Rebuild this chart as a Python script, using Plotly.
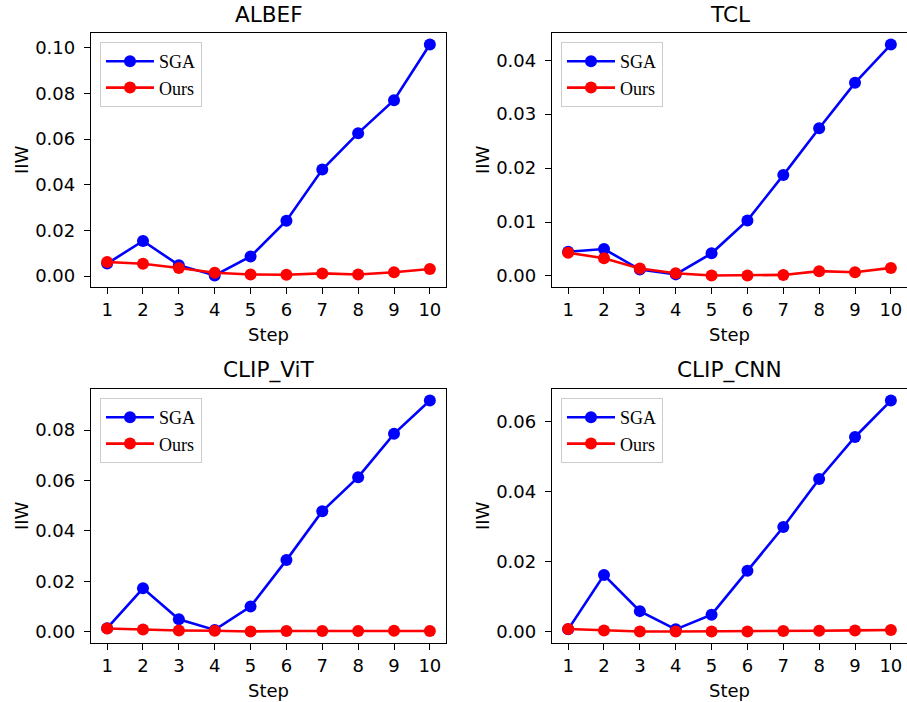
import plotly.graph_objects as go

steps = list(range(1, 11))
titles = ["ALBEF", "TCL", "CLIP_ViT", "CLIP_CNN"]

albef_sga = [0.0055, 0.0154, 0.0048, 0.0003, 0.0086, 0.0243, 0.0467, 0.0626, 0.0770, 0.1014]
albef_ours = [0.0062, 0.0054, 0.0036, 0.0015, 0.0007, 0.0006, 0.0012, 0.0007, 0.0017, 0.0031]

tcl_sga = [0.0045, 0.0050, 0.0012, 0.0003, 0.0042, 0.0103, 0.0187, 0.0274, 0.0358, 0.0429]
tcl_ours = [0.0043, 0.0033, 0.0014, 0.0005, 0.0001, 0.0001, 0.0002, 0.0009, 0.0007, 0.0015]

vit_sga = [0.0014, 0.0172, 0.0049, 0.0007, 0.0100, 0.0284, 0.0478, 0.0613, 0.0785, 0.0917]
vit_ours = [0.0013, 0.0009, 0.0005, 0.0004, 0.0001, 0.0003, 0.0003, 0.0003, 0.0004, 0.0003]

cnn_sga = [0.0007, 0.0162, 0.0059, 0.0007, 0.0049, 0.0174, 0.0299, 0.0436, 0.0556, 0.0660]
cnn_ours = [0.0008, 0.0004, 0.0001, 0.0001, 0.0001, 0.0001, 0.0002, 0.0003, 0.0004, 0.0005]

y_dticks = [0.02, 0.01, 0.02, 0.02]

panels = [
    (albef_sga, albef_ours),
    (tcl_sga, tcl_ours),
    (vit_sga, vit_ours),
    (cnn_sga, cnn_ours),
]

W, H = 907, 702
# pixel boxes in window coordinates (left, right, top, bottom)
boxes = [
    (91, 446, 33, 287),
    (552, 907, 33, 287),
    (91, 446, 389, 643),
    (552, 907, 389, 643),
]

fig = go.Figure()
TICKFONT = dict(family="DejaVu Sans", size=18, color="black")
annotations = []
layout = {}


def px(v):
    return v / W


def py(v):
    return 1 - v / H


for i, ((sga, ours), title, dt, box) in enumerate(zip(panels, titles, y_dticks, boxes)):
    n = "" if i == 0 else str(i + 1)
    leg = "legend" + n
    xa = "x" + n
    ya = "y" + n
    fig.add_trace(go.Scatter(x=steps, y=sga, mode="lines+markers", name="SGA",
                             line=dict(color="#0000ff", width=2.6),
                             marker=dict(color="#0000ff", size=12),
                             xaxis=xa, yaxis=ya, legend=leg))
    fig.add_trace(go.Scatter(x=steps, y=ours, mode="lines+markers", name="Ours",
                             line=dict(color="#ff0000", width=2.6),
                             marker=dict(color="#ff0000", size=12),
                             xaxis=xa, yaxis=ya, legend=leg))
    l, r, t, b = box
    allv = sga + ours
    lo, hi = min(allv), max(allv)
    pad = (hi - lo) * 0.05
    layout["xaxis" + n] = dict(
        domain=[px(l), min(1.0, px(r))], anchor=ya, range=[0.55, 10.45],
        tickmode="array", tickvals=steps, ticktext=[str(s) for s in steps],
        ticks="outside", ticklen=6, tickwidth=1.2, tickcolor="black",
        showline=True, linecolor="black", linewidth=1.3, mirror=True,
        showgrid=False, zeroline=False, tickfont=TICKFONT,
    )
    layout["yaxis" + n] = dict(
        domain=[py(b), py(t)], anchor=xa, range=[lo - pad, hi + pad],
        dtick=dt, tick0=0, tickformat=".2f",
        ticks="outside", ticklen=6, tickwidth=1.2, tickcolor="black",
        showline=True, linecolor="black", linewidth=1.3, mirror=True,
        showgrid=False, zeroline=False, tickfont=TICKFONT, ticklabelstandoff=5,
    )
    layout[leg] = dict(
        x=px(l + 9), y=py(t + 9), xanchor="left", yanchor="top",
        xref="paper", yref="paper",
        bgcolor="rgba(255,255,255,0.8)", bordercolor="#cccccc", borderwidth=1,
        font=dict(family="Liberation Serif", size=18, color="black"),
        itemwidth=48, tracegroupgap=2,
    )
    cx = (l + r) / 2
    annotations.append(dict(text=title, x=px(cx), y=py(t - 19), xref="paper", yref="paper",
                            showarrow=False, xanchor="center", yanchor="middle",
                            font=dict(family="DejaVu Sans", size=21.6, color="black")))
    annotations.append(dict(text="Step", x=px(cx), y=py(b + 47), xref="paper", yref="paper",
                            showarrow=False, xanchor="center", yanchor="middle",
                            font=dict(family="DejaVu Sans", size=18, color="black")))
    annotations.append(dict(text="IIW", x=px(l - 70), y=py((t + b) / 2), xref="paper", yref="paper",
                            showarrow=False, xanchor="center", yanchor="middle", textangle=-90,
                            font=dict(family="DejaVu Sans", size=18, color="black")))

fig.update_layout(
    width=W, height=H,
    margin=dict(l=0, r=0, t=0, b=0),
    paper_bgcolor="white", plot_bgcolor="white",
    showlegend=True, annotations=annotations,
    **layout,
)

fig.write_html("out.html", config={"displayModeBar": False},
               post_script="document.body.style.margin='0';")
